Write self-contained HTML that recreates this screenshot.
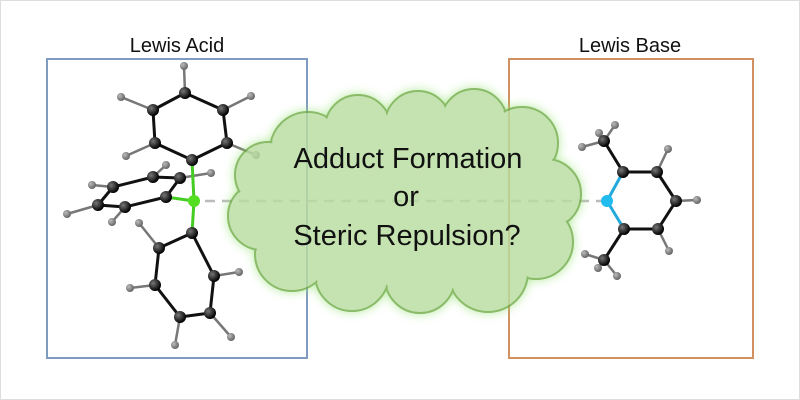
<!DOCTYPE html>
<html><head><style>
html,body{margin:0;padding:0;background:#fff;}
svg{display:block;}
text{font-family:"Liberation Sans",sans-serif;}
</style></head><body>
<svg width="800" height="400" viewBox="0 0 800 400" xmlns="http://www.w3.org/2000/svg">
<defs>
<filter id="glow" x="-20%" y="-20%" width="140%" height="140%">
<feGaussianBlur in="SourceAlpha" stdDeviation="5" result="b"/>
<feFlood flood-color="#9be37a" flood-opacity="0.9"/>
<feComposite in2="b" operator="in" result="g"/>
<feMerge><feMergeNode in="g"/><feMergeNode in="SourceGraphic"/></feMerge>
</filter>
<radialGradient id="cg" cx="35%" cy="35%" r="65%"><stop offset="0" stop-color="#777"/><stop offset="1" stop-color="#000"/></radialGradient>
<radialGradient id="hg" cx="35%" cy="35%" r="65%"><stop offset="0" stop-color="#bbb"/><stop offset="1" stop-color="#666"/></radialGradient>
</defs>
<rect x="0.5" y="0.5" width="799" height="399" fill="#fff" stroke="#ddd"/>
<text x="177" y="52" font-size="20" text-anchor="middle" fill="#111">Lewis Acid</text>
<text x="630" y="52" font-size="20" text-anchor="middle" fill="#111">Lewis Base</text>
<rect x="47" y="59" width="260" height="299" fill="none" stroke="#7f9cc0" stroke-width="2"/>
<rect x="509" y="59" width="244" height="299" fill="none" stroke="#d09060" stroke-width="2"/>

<line x1="205" y1="201" x2="605" y2="201" stroke="#bbb" stroke-width="2.5" stroke-dasharray="10,7"/>

<!-- left molecule bonds -->
<g stroke="#111" stroke-width="3">
<line x1="185" y1="93" x2="153" y2="110"/><line x1="185" y1="93" x2="223" y2="110"/>
<line x1="153" y1="110" x2="155" y2="143"/><line x1="223" y1="110" x2="227" y2="143"/>
<line x1="155" y1="143" x2="192" y2="160"/><line x1="227" y1="143" x2="192" y2="160"/>
<line x1="166" y1="197" x2="180" y2="178"/><line x1="180" y1="178" x2="153" y2="177"/>
<line x1="153" y1="177" x2="113" y2="187"/><line x1="113" y1="187" x2="98" y2="205"/>
<line x1="98" y1="205" x2="125" y2="207"/><line x1="125" y1="207" x2="166" y2="197"/>
<line x1="192" y1="233" x2="159" y2="248"/><line x1="192" y1="233" x2="214" y2="276"/>
<line x1="159" y1="248" x2="155" y2="285"/><line x1="214" y1="276" x2="210" y2="313"/>
<line x1="155" y1="285" x2="180" y2="317"/><line x1="210" y1="313" x2="180" y2="317"/>
</g>
<g stroke="#777" stroke-width="2.5">
<line x1="185" y1="93" x2="184" y2="66"/><line x1="153" y1="110" x2="121" y2="97"/>
<line x1="223" y1="110" x2="251" y2="96"/><line x1="155" y1="143" x2="126" y2="156"/>
<line x1="227" y1="143" x2="256" y2="155"/>
<line x1="153" y1="177" x2="166" y2="165"/><line x1="180" y1="178" x2="211" y2="173"/>
<line x1="113" y1="187" x2="92" y2="185"/><line x1="98" y1="205" x2="67" y2="214"/>
<line x1="125" y1="207" x2="112" y2="222"/>
<line x1="159" y1="248" x2="139" y2="223"/><line x1="214" y1="276" x2="239" y2="272"/>
<line x1="155" y1="285" x2="130" y2="288"/><line x1="210" y1="313" x2="231" y2="337"/>
<line x1="180" y1="317" x2="175" y2="345"/>
</g>
<g stroke="#44cc22" stroke-width="3">
<line x1="194" y1="201" x2="192" y2="160"/><line x1="194" y1="201" x2="166" y2="197"/><line x1="194" y1="201" x2="192" y2="233"/>
</g>
<g fill="url(#hg)">
<circle cx="184" cy="66" r="4"/><circle cx="121" cy="97" r="4"/><circle cx="251" cy="96" r="4"/><circle cx="126" cy="156" r="4"/><circle cx="256" cy="155" r="4"/>
<circle cx="166" cy="165" r="4"/><circle cx="211" cy="173" r="4"/><circle cx="92" cy="185" r="4"/><circle cx="67" cy="214" r="4"/><circle cx="112" cy="222" r="4"/>
<circle cx="139" cy="223" r="4"/><circle cx="239" cy="272" r="4"/><circle cx="130" cy="288" r="4"/><circle cx="231" cy="337" r="4"/><circle cx="175" cy="345" r="4"/>
</g>
<g fill="url(#cg)">
<circle cx="185" cy="93" r="6"/><circle cx="153" cy="110" r="6"/><circle cx="223" cy="110" r="6"/><circle cx="155" cy="143" r="6"/><circle cx="227" cy="143" r="6"/><circle cx="192" cy="160" r="6"/>
<circle cx="166" cy="197" r="6"/><circle cx="180" cy="178" r="6"/><circle cx="153" cy="177" r="6"/><circle cx="113" cy="187" r="6"/><circle cx="98" cy="205" r="6"/><circle cx="125" cy="207" r="6"/>
<circle cx="192" cy="233" r="6"/><circle cx="159" cy="248" r="6"/><circle cx="214" cy="276" r="6"/><circle cx="155" cy="285" r="6"/><circle cx="210" cy="313" r="6"/><circle cx="180" cy="317" r="6"/>
</g>
<circle cx="194" cy="201" r="6" fill="#55dd22"/>

<!-- right molecule -->
<g stroke="#111" stroke-width="3">
<line x1="623" y1="172" x2="657" y2="172"/><line x1="657" y1="172" x2="676" y2="201"/>
<line x1="676" y1="201" x2="658" y2="229"/><line x1="658" y1="229" x2="624" y2="229"/>
<line x1="623" y1="172" x2="604" y2="141"/><line x1="624" y1="229" x2="604" y2="260"/>
</g>
<g stroke="#22aadd" stroke-width="3"><line x1="607" y1="201" x2="623" y2="172"/><line x1="607" y1="201" x2="624" y2="229"/></g>
<g stroke="#777" stroke-width="2.5">
<line x1="604" y1="141" x2="599" y2="133"/><line x1="604" y1="141" x2="615" y2="125"/><line x1="604" y1="141" x2="582" y2="147"/>
<line x1="604" y1="260" x2="585" y2="254"/><line x1="604" y1="260" x2="598" y2="268"/><line x1="604" y1="260" x2="617" y2="276"/>
<line x1="657" y1="172" x2="668" y2="149"/><line x1="676" y1="201" x2="697" y2="200"/><line x1="658" y1="229" x2="669" y2="251"/>
</g>
<g fill="url(#hg)">
<circle cx="599" cy="133" r="4"/><circle cx="615" cy="125" r="4"/><circle cx="582" cy="147" r="4"/>
<circle cx="585" cy="254" r="4"/><circle cx="598" cy="268" r="4"/><circle cx="617" cy="276" r="4"/>
<circle cx="668" cy="149" r="4"/><circle cx="697" cy="200" r="4"/><circle cx="669" cy="251" r="4"/>
</g>
<g fill="url(#cg)">
<circle cx="623" cy="172" r="6"/><circle cx="657" cy="172" r="6"/><circle cx="676" cy="201" r="6"/><circle cx="658" cy="229" r="6"/><circle cx="624" cy="229" r="6"/>
<circle cx="604" cy="141" r="6"/><circle cx="604" cy="260" r="6"/>
</g>
<circle cx="607" cy="201" r="6" fill="#22bbee"/>

<!-- cloud -->
<g filter="url(#glow)" opacity="0.82">
<g fill="#b9dea0" stroke="#70ad47" stroke-width="2">
<circle cx="308" cy="150" r="38"/><circle cx="358" cy="128" r="33"/><circle cx="418" cy="124" r="33"/><circle cx="474" cy="122" r="33"/><circle cx="522" cy="143" r="36"/>
<circle cx="546" cy="194" r="35"/><circle cx="536" cy="242" r="37"/>
<circle cx="488" cy="272" r="40"/><circle cx="420" cy="278" r="35"/><circle cx="352" cy="274" r="37"/><circle cx="292" cy="254" r="37"/>
<circle cx="262" cy="216" r="34"/><circle cx="268" cy="175" r="33"/>
</g>
<g fill="#b9dea0">
<circle cx="308" cy="150" r="36.5"/><circle cx="358" cy="128" r="31.5"/><circle cx="418" cy="124" r="31.5"/><circle cx="474" cy="122" r="31.5"/><circle cx="522" cy="143" r="34.5"/>
<circle cx="546" cy="194" r="33.5"/><circle cx="536" cy="242" r="35.5"/>
<circle cx="488" cy="272" r="38.5"/><circle cx="420" cy="278" r="33.5"/><circle cx="352" cy="274" r="35.5"/><circle cx="292" cy="254" r="35.5"/>
<circle cx="262" cy="216" r="32.5"/><circle cx="268" cy="175" r="31.5"/>
<ellipse cx="400" cy="200" rx="150" ry="85"/>
</g>
</g>
<g font-size="29" text-anchor="middle" fill="#111">
<text x="408" y="168">Adduct Formation</text>
<text x="406" y="206">or</text>
<text x="407" y="245">Steric Repulsion?</text>
</g>
</svg>
</body></html>
